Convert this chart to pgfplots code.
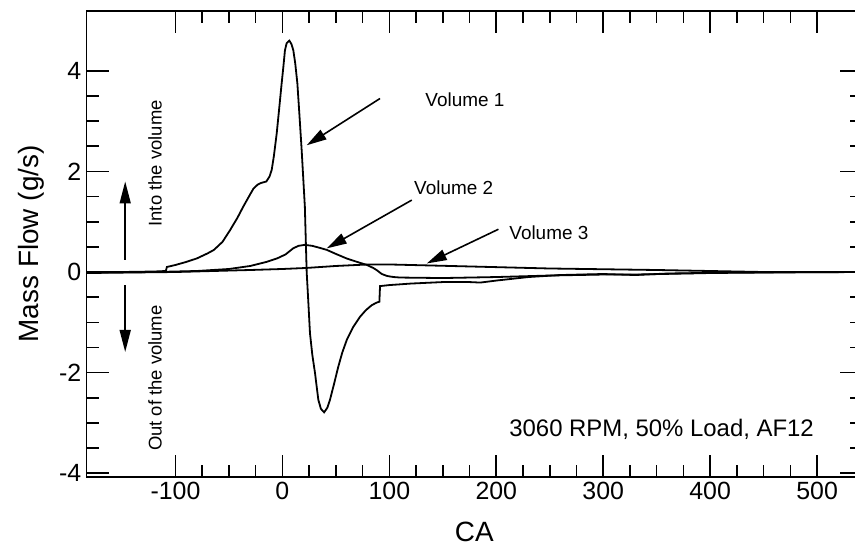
\documentclass[border=0pt]{standalone}
\usepackage{fontspec}
\setmainfont{Liberation Sans}
\usepackage{pgfplots}
\pgfplotsset{compat=1.18}
\usetikzlibrary{arrows.meta}
\begin{document}
\begin{tikzpicture}
\path[use as bounding box] (-86.7bp,-73.3bp) rectangle (768.3bp,476.7bp);
\begin{axis}[
  at={(0,0)}, anchor=south west,
  width=775.3bp, height=465.7bp, scale only axis,
  xmin=-183, xmax=542, ymin=-4.07, ymax=5.19,
  xtick={-100,0,100,200,300,400,500},
  ytick={-4,-2,0,2,4},
  minor x tick num=3, minor y tick num=3,
  tick align=inside, tick pos=both,
  xticklabel pos=lower, yticklabel pos=left,
  major tick length=22bp, minor tick length=12bp,
  axis line style={line width=1.6bp},
  every tick/.style={black, line width=1.6bp},
  /pgf/number format/assume math mode=true,
  ticklabel style={font=\fontsize{25}{30}\selectfont},
  xticklabel style={yshift=-2bp},
  yticklabel style={xshift=-2bp},
  xlabel={CA}, ylabel={Mass Flow (g/s)},
  label style={font=\fontsize{28}{33}\selectfont},
  xlabel style={at={(axis description cs:0.5,0)}, anchor=north, yshift=-42bp},
  ylabel style={yshift=8bp},
  clip=true,
]
% Volume 1
\addplot[black, line width=1.8bp] coordinates {
(-183,0.0) (-150,0.0) (-120,0.01) (-109,0.02) (-108,0.1) (-100,0.14) (-90,0.2)
(-80,0.27) (-70,0.37) (-64,0.44) (-56,0.6) (-49,0.83) (-42,1.08) (-36.6,1.30)
(-30,1.55) (-27,1.66) (-23,1.74) (-20,1.77) (-15,1.80) (-12,1.9) (-10,2.03)
(-8,2.3) (-5.3,2.76) (-3,3.25) (-0.7,3.75) (1,4.1) (2.4,4.41) (4,4.55) (6.5,4.60)
(8.5,4.53) (10.2,4.41) (12,4.15) (14,3.75) (16,3.1) (18,2.43) (21,1.3) (22.7,0.0)
(24,-0.5) (25.8,-1.22) (28,-1.65) (30.5,-2.01) (33.6,-2.54) (36,-2.72) (39,-2.79)
(42,-2.70) (44.5,-2.54) (48,-2.25) (52.3,-1.88) (56,-1.6) (60.2,-1.35) (66,-1.1)
(72.6,-0.89) (78,-0.76) (83.5,-0.66) (88,-0.61) (90.7,-0.59) (91.3,-0.28)
(100,-0.26) (120,-0.23) (150,-0.2) (175,-0.2) (185,-0.21) (200,-0.17) (230,-0.1)
(260,-0.06) (300,-0.04) (330,-0.06) (360,-0.03) (420,-0.01) (542,0.0)
};
% Volume 2
\addplot[black, line width=1.8bp] coordinates {
(-183,-0.01) (-120,0.0) (-80,0.02) (-50,0.06) (-30,0.12) (-15,0.2) (-5,0.27)
(3,0.35) (10,0.47) (15,0.52) (21,0.54) (28,0.52) (35,0.48) (41.5,0.44) (50,0.36)
(60,0.27) (70,0.2) (79,0.14) (85,0.08) (88,0.04) (93,-0.04) (98,-0.08) (104,-0.1)
(110,-0.11) (150,-0.12) (200,-0.1) (250,-0.07) (300,-0.05) (330,-0.05)
(400,-0.02) (450,-0.01) (542,0.0)
};
% Volume 3
\addplot[black, line width=1.8bp] coordinates {
(-183,-0.02) (-100,0.0) (-30,0.04) (0,0.06) (22,0.08) (50,0.12) (80,0.15)
(100,0.15) (157,0.12) (250,0.07) (350,0.04) (450,0.0) (542,0.0)
};
% annotations
\draw[line width=1.6bp, -{Triangle[length=20bp,width=11bp]}] (axis cs:91.3,3.45) -- (axis cs:22.7,2.52);
\draw[line width=1.6bp, -{Triangle[length=20bp,width=11bp]}] (axis cs:121,1.43) -- (axis cs:41.5,0.47);
\draw[line width=1.6bp, -{Triangle[length=20bp,width=11bp]}] (axis cs:202,0.85) -- (axis cs:135,0.17);
\node[anchor=west, font=\fontsize{19}{22}\selectfont] at (axis cs:130.5,3.42) {Volume 1};
\node[anchor=west, font=\fontsize{19}{22}\selectfont] at (axis cs:120,1.67) {Volume 2};
\node[anchor=west, font=\fontsize{19}{22}\selectfont] at (axis cs:209,0.79) {Volume 3};
\draw[line width=1.6bp, -{Triangle[length=22bp,width=11bp]}] (axis cs:-147,0.24) -- (axis cs:-147,1.80);
\draw[line width=1.6bp, -{Triangle[length=22bp,width=11bp]}] (axis cs:-147,-0.26) -- (axis cs:-147,-1.59);
\node[rotate=90, font=\fontsize{18.5}{22}\selectfont] at (axis cs:-119,2.16) {Into the volume};
\node[rotate=90, font=\fontsize{18.5}{22}\selectfont] at (axis cs:-119,-2.11) {Out of the volume};
\node[anchor=east, font=\fontsize{24}{29}\selectfont] at (axis cs:500.2,-3.12) {3060 RPM, 50\% Load, AF12};
\end{axis}
\end{tikzpicture}
\end{document}
